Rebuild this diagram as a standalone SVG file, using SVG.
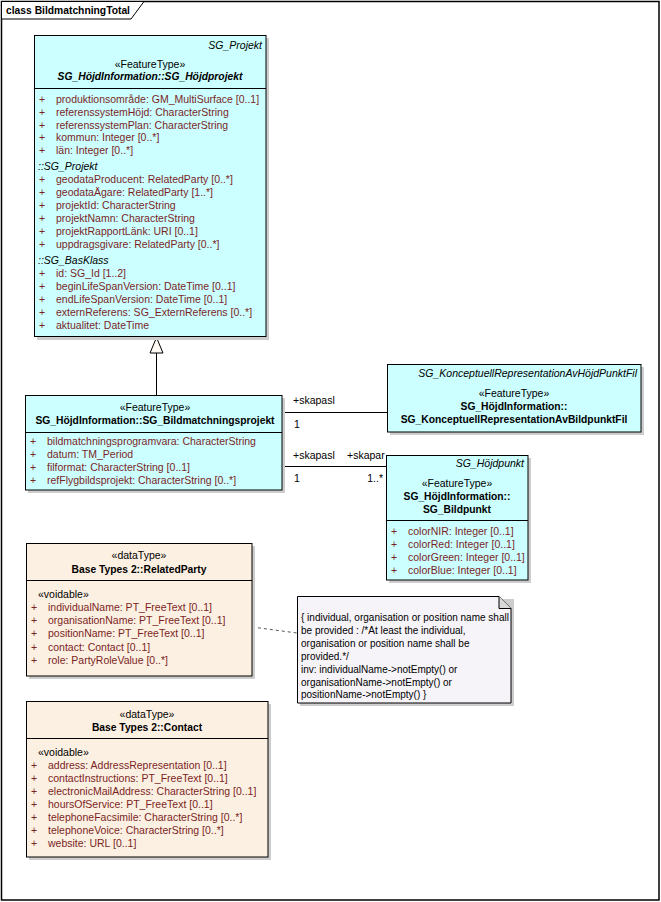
<svg xmlns="http://www.w3.org/2000/svg" width="661" height="902" viewBox="0 0 661 902">
<style>
text{font-family:"Liberation Sans",Arial,sans-serif;font-size:10.5px;fill:#000}
.a{fill:#7b1f1f}
.i{font-style:italic}
.b{font-weight:bold;font-size:10.3px}
.m{text-anchor:middle}
.e{text-anchor:end}
.ft{fill:#ccffff;stroke:#000;stroke-width:1}
.dt{fill:#fcf0e2;stroke:#000;stroke-width:1}
.sh{fill:#cdcdcd}
.sep{stroke:#000;stroke-width:1}
.ln{stroke:#000;stroke-width:1;fill:none}
.note{font-size:10px;fill:#000}
</style>
<rect x="0" y="0" width="661" height="902" fill="#fff"/>
<g id="frame">
<rect x="1.5" y="1.5" width="657.5" height="898.5" fill="none" stroke="#000" stroke-width="1.5"/>
<path d="M1.5,1.5 H144 L131,19 H1.5 Z" fill="#fff" stroke="#000" stroke-width="1"/>
<text x="6" y="14" class="b">class BildmatchningTotal</text>
</g>
<g id="connectors">
<line x1="156.5" y1="353" x2="156.5" y2="395" class="ln"/>
<path d="M156.5,337.5 L150,353 L163,353 Z" fill="#fffaf4" stroke="#000" stroke-width="1"/>
<line x1="282" y1="412.5" x2="387" y2="412.5" class="ln"/>
<text x="293" y="404">+skapasl</text>
<text x="294" y="428">1</text>
<line x1="282" y1="466.5" x2="386" y2="466.5" class="ln"/>
<text x="293" y="459">+skapasl</text>
<text x="347" y="459">+skapar</text>
<text x="383" y="482" class="e">1..*</text>
<text x="294" y="482">1</text>
<line x1="252" y1="627" x2="297" y2="633" stroke="#555" stroke-width="1" stroke-dasharray="3,3"/>
</g>
<g id="SG_Hojdprojekt">
<rect x="37" y="38" width="232" height="302" class="sh"/>
<rect x="34.5" y="35.5" width="231.5" height="301" class="ft"/>
<line x1="34.5" y1="88.5" x2="266" y2="88.5" class="sep"/>
<text x="262" y="49" class="i e">SG_Projekt</text>
<text x="150" y="68" class="m">«FeatureType»</text>
<text x="150" y="80" class="m b i">SG_HöjdInformation::SG_Höjdprojekt</text>
<text x="39" y="103" class="a">+</text><text x="56" y="103" class="a">produktionsområde: GM_MultiSurface [0..1]</text>
<text x="39" y="116" class="a">+</text><text x="56" y="116" class="a">referenssystemHöjd: CharacterString</text>
<text x="39" y="129" class="a">+</text><text x="56" y="129" class="a">referenssystemPlan: CharacterString</text>
<text x="39" y="141" class="a">+</text><text x="56" y="141" class="a">kommun: Integer [0..*]</text>
<text x="39" y="154" class="a">+</text><text x="56" y="154" class="a">län: Integer [0..*]</text>
<text x="38" y="170" class="i">::SG_Projekt</text>
<text x="39" y="183" class="a">+</text><text x="56" y="183" class="a">geodataProducent: RelatedParty [0..*]</text>
<text x="39" y="196" class="a">+</text><text x="56" y="196" class="a">geodataÄgare: RelatedParty [1..*]</text>
<text x="39" y="209" class="a">+</text><text x="56" y="209" class="a">projektId: CharacterString</text>
<text x="39" y="222" class="a">+</text><text x="56" y="222" class="a">projektNamn: CharacterString</text>
<text x="39" y="235" class="a">+</text><text x="56" y="235" class="a">projektRapportLänk: URI [0..1]</text>
<text x="39" y="248" class="a">+</text><text x="56" y="248" class="a">uppdragsgivare: RelatedParty [0..*]</text>
<text x="38" y="264" class="i">::SG_BasKlass</text>
<text x="39" y="277" class="a">+</text><text x="56" y="277" class="a">id: SG_Id [1..2]</text>
<text x="39" y="290" class="a">+</text><text x="56" y="290" class="a">beginLifeSpanVersion: DateTime [0..1]</text>
<text x="39" y="303" class="a">+</text><text x="56" y="303" class="a">endLifeSpanVersion: DateTime [0..1]</text>
<text x="39" y="316" class="a">+</text><text x="56" y="316" class="a">externReferens: SG_ExternReferens [0..*]</text>
<text x="39" y="329" class="a">+</text><text x="56" y="329" class="a">aktualitet: DateTime</text>
</g>
<g id="SG_Bildmatchningsprojekt">
<rect x="28" y="398" width="257" height="95" class="sh"/>
<rect x="25.5" y="395.5" width="256.5" height="94.5" class="ft"/>
<line x1="25.5" y1="432.5" x2="282" y2="432.5" class="sep"/>
<text x="155" y="411" class="m">«FeatureType»</text>
<text x="155" y="424" class="m b">SG_HöjdInformation::SG_Bildmatchningsprojekt</text>
<text x="30" y="445" class="a">+</text><text x="47" y="445" class="a">bildmatchningsprogramvara: CharacterString</text>
<text x="30" y="458" class="a">+</text><text x="47" y="458" class="a">datum: TM_Period</text>
<text x="30" y="471" class="a">+</text><text x="47" y="471" class="a">filformat: CharacterString [0..1]</text>
<text x="30" y="484" class="a">+</text><text x="47" y="484" class="a">refFlygbildsprojekt: CharacterString [0..*]</text>
</g>
<g id="SG_KonceptuellRepresentationAvBildpunktFil">
<rect x="390" y="367" width="254" height="68" class="sh"/>
<rect x="387.5" y="364.5" width="253.5" height="67.5" class="ft"/>
<text x="637" y="377" class="i e">SG_KonceptuellRepresentationAvHöjdPunktFil</text>
<text x="514" y="397" class="m">«FeatureType»</text>
<text x="514" y="410" class="m b">SG_HöjdInformation::</text>
<text x="514" y="423" class="m b">SG_KonceptuellRepresentationAvBildpunktFil</text>
</g>
<g id="SG_Bildpunkt">
<rect x="389" y="458" width="142" height="125" class="sh"/>
<rect x="386.5" y="455.5" width="141.5" height="124.5" class="ft"/>
<line x1="386.5" y1="520.5" x2="528" y2="520.5" class="sep"/>
<text x="524" y="467" class="i e">SG_Höjdpunkt</text>
<text x="457" y="487" class="m">«FeatureType»</text>
<text x="457" y="500" class="m b">SG_HöjdInformation::</text>
<text x="457" y="513" class="m b">SG_Bildpunkt</text>
<text x="391" y="535" class="a">+</text><text x="408" y="535" class="a">colorNIR: Integer [0..1]</text>
<text x="391" y="548" class="a">+</text><text x="408" y="548" class="a">colorRed: Integer [0..1]</text>
<text x="391" y="561" class="a">+</text><text x="408" y="561" class="a">colorGreen: Integer [0..1]</text>
<text x="391" y="574" class="a">+</text><text x="408" y="574" class="a">colorBlue: Integer [0..1]</text>
</g>
<g id="RelatedParty">
<rect x="29" y="546" width="226" height="133" class="sh"/>
<rect x="26.5" y="543.5" width="225.5" height="132.5" class="dt"/>
<line x1="26.5" y1="580.5" x2="252" y2="580.5" class="sep"/>
<text x="139" y="559" class="m">«dataType»</text>
<text x="139" y="573" class="m b">Base Types 2::RelatedParty</text>
<text x="38" y="598">«voidable»</text>
<text x="31" y="611" class="a">+</text><text x="48" y="611" class="a">individualName: PT_FreeText [0..1]</text>
<text x="31" y="624" class="a">+</text><text x="48" y="624" class="a">organisationName: PT_FreeText [0..1]</text>
<text x="31" y="637" class="a">+</text><text x="48" y="637" class="a">positionName: PT_FreeText [0..1]</text>
<text x="31" y="651" class="a">+</text><text x="48" y="651" class="a">contact: Contact [0..1]</text>
<text x="31" y="664" class="a">+</text><text x="48" y="664" class="a">role: PartyRoleValue [0..*]</text>
</g>
<g id="Note">
<path d="M300,599 H514 V706 H300 Z" class="sh"/>
<path d="M297.5,596.5 H499 L511,608.5 V703 H297.5 Z" fill="#f6f4f8" stroke="#000" stroke-width="1"/>
<path d="M499,596.5 V608.5 H511" fill="#d8d8d8" stroke="#000" stroke-width="1"/>
<text x="301" y="621" class="note">{ individual, organisation or position name shall</text>
<text x="301" y="634" class="note">be provided : /*At least the individual,</text>
<text x="301" y="647" class="note">organisation or position name shall be</text>
<text x="301" y="660" class="note">provided.*/</text>
<text x="301" y="673" class="note">inv: individualName-&gt;notEmpty() or</text>
<text x="301" y="686" class="note">organisationName-&gt;notEmpty() or</text>
<text x="301" y="698" class="note">positionName-&gt;notEmpty() }</text>
</g>
<g id="Contact">
<rect x="29" y="704" width="242" height="156" class="sh"/>
<rect x="26.5" y="701.5" width="241.5" height="155.5" class="dt"/>
<line x1="26.5" y1="738.5" x2="268" y2="738.5" class="sep"/>
<text x="147" y="718" class="m">«dataType»</text>
<text x="147" y="731" class="m b">Base Types 2::Contact</text>
<text x="38" y="756">«voidable»</text>
<text x="31" y="769" class="a">+</text><text x="48" y="769" class="a">address: AddressRepresentation [0..1]</text>
<text x="31" y="782" class="a">+</text><text x="48" y="782" class="a">contactInstructions: PT_FreeText [0..1]</text>
<text x="31" y="795" class="a">+</text><text x="48" y="795" class="a">electronicMailAddress: CharacterString [0..1]</text>
<text x="31" y="808" class="a">+</text><text x="48" y="808" class="a">hoursOfService: PT_FreeText [0..1]</text>
<text x="31" y="821" class="a">+</text><text x="48" y="821" class="a">telephoneFacsimile: CharacterString [0..*]</text>
<text x="31" y="834" class="a">+</text><text x="48" y="834" class="a">telephoneVoice: CharacterString [0..*]</text>
<text x="31" y="847" class="a">+</text><text x="48" y="847" class="a">website: URL [0..1]</text>
</g>
</svg>
